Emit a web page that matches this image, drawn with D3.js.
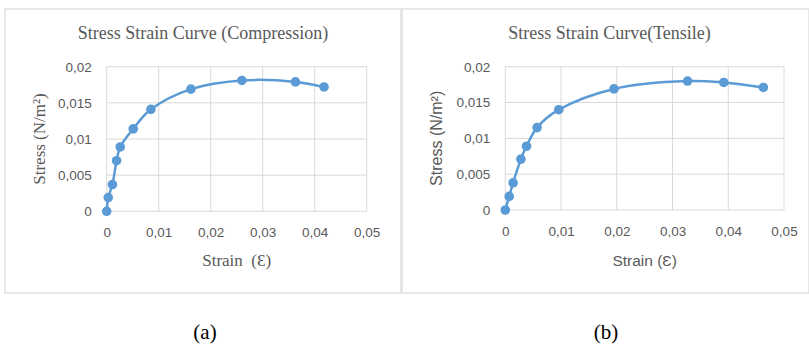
<!DOCTYPE html>
<html>
<head>
<meta charset="utf-8">
<script src="https://cdn.jsdelivr.net/npm/d3@7"></script>
<style>
  body { margin: 0; background: #fff; }
  svg { display: block; }
  text { white-space: pre; }
</style>
</head>
<body>
<div id="canvas"></div>
<script>
// compression test (a)
var compStrain = [0, 0.0003, 0.0011, 0.0019, 0.0026, 0.0051, 0.0085, 0.0162, 0.026, 0.0363, 0.0418];
var compStress = [0, 0.0019, 0.0037, 0.0070, 0.0089, 0.0114, 0.0141, 0.0169, 0.0181, 0.0179, 0.0172];
// tensile test (b)
var tensStrain = [0, 0.0007, 0.0014, 0.0028, 0.0038, 0.0057, 0.0096, 0.0195, 0.0327, 0.0392, 0.0463];
var tensStress = [0, 0.0019, 0.0038, 0.0071, 0.0089, 0.0115, 0.0140, 0.0169, 0.0180, 0.0178, 0.0171];

var xTicks = [0, 0.01, 0.02, 0.03, 0.04, 0.05];
var yTicks = [0, 0.005, 0.01, 0.015, 0.02];
var titles = ["Stress Strain Curve (Compression)", "Stress Strain Curve(Tensile)"];
var xTitles = ["Strain  (\u0190)", "Strain (\u0190)"];
var yTitles = ["Stress (N/m\u00b2)", "Stress (N/m\u00b2)"];
var captions = ["(a)", "(b)"];

var width = 809, height = 348;
var blue = "#5b9bd5";
var serif = "'Liberation Serif', 'Times New Roman', serif";
var sans = "'Liberation Sans', Arial, sans-serif";

var svg = d3.select("#canvas").append("svg")
  .attr("width", width)
  .attr("height", height);

// comma decimal like the original
var fmt = (d) => { return d === 0 ? "0" : String(d).replace(".", ","); };

var panels = [
  {box: [5, 9, 401, 293], plot: {left: 106.7, right: 366.7, top: 66.7, bottom: 211.3},
   xs: compStrain, ys: compStress, axisFont: serif, xSize: 17, ySize: 17, cap: 205},
  {box: [402, 9, 809, 293], plot: {left: 505.3, right: 784, top: 66.7, bottom: 210},
   xs: tensStrain, ys: tensStress, axisFont: sans, xSize: 15.5, ySize: 16, cap: 606}
];

panels.forEach((p, i) => {
  var g = svg.append("g");

  // panel border
  g.append("rect")
    .attr("x", p.box[0]).attr("y", p.box[1])
    .attr("width", p.box[2] - p.box[0]).attr("height", p.box[3] - p.box[1])
    .attr("fill", "none").attr("stroke", "#e0e0e0").attr("stroke-width", 1.5);

  var x = d3.scaleLinear().domain([0, 0.05]).range([p.plot.left, p.plot.right]);
  var y = d3.scaleLinear().domain([0, 0.02]).range([p.plot.bottom, p.plot.top]);

  // gridlines
  g.append("g").selectAll("line").data(xTicks).enter().append("line")
    .attr("x1", (d) => x(d)).attr("x2", (d) => x(d))
    .attr("y1", p.plot.top).attr("y2", p.plot.bottom)
    .attr("stroke", "#d9d9d9").attr("stroke-width", 1);
  g.append("g").selectAll("line").data(yTicks).enter().append("line")
    .attr("x1", p.plot.left).attr("x2", p.plot.right)
    .attr("y1", (d) => y(d)).attr("y2", (d) => y(d))
    .attr("stroke", "#d9d9d9").attr("stroke-width", 1);

  // axes, only labels shown
  var bottomAxis = d3.axisBottom(x).tickValues(xTicks).tickFormat(fmt).tickSize(0).tickPadding(16);
  var leftAxis = d3.axisLeft(y).tickValues(yTicks).tickFormat(fmt).tickSize(0).tickPadding(15);
  var xa = g.append("g").attr("transform", "translate(0," + p.plot.bottom + ")").call(bottomAxis);
  var ya = g.append("g").attr("transform", "translate(" + p.plot.left + ",0)").call(leftAxis);
  [xa, ya].forEach((a) => {
    a.select(".domain").remove();
    a.selectAll("text").attr("fill", "#595959").attr("font-family", sans).attr("font-size", "13.5px");
  });

  // title
  g.append("text")
    .attr("x", (p.box[0] + p.box[2]) / 2 + (i === 0 ? 0 : 4))
    .attr("y", 39)
    .attr("text-anchor", "middle")
    .attr("font-family", serif)
    .attr("font-size", "18px")
    .attr("fill", "#595959")
    .text(titles[i]);

  // axis titles
  g.append("text")
    .attr("x", (p.plot.left + p.plot.right) / 2)
    .attr("y", 266)
    .attr("text-anchor", "middle")
    .attr("font-family", p.axisFont)
    .attr("font-size", p.xSize + "px")
    .attr("fill", "#595959")
    .text(xTitles[i]);
  g.append("text")
    .attr("transform", "translate(" + (p.box[0] + 34) + "," + ((p.plot.top + p.plot.bottom) / 2) + ") rotate(-90)")
    .attr("text-anchor", "middle")
    .attr("dy", "0.35em")
    .attr("font-family", p.axisFont)
    .attr("font-size", p.ySize + "px")
    .attr("fill", "#595959")
    .text(yTitles[i]);

  // curve
  var pts = p.xs.map((d, j) => [d, p.ys[j]]);
  var line = d3.line()
    .x((d) => x(d[0]))
    .y((d) => y(d[1]))
    .curve(d3.curveCatmullRom.alpha(0.5));
  g.append("path")
    .attr("d", line(pts))
    .attr("fill", "none")
    .attr("stroke", blue)
    .attr("stroke-width", 2.5);
  g.append("g").selectAll("circle").data(pts).enter().append("circle")
    .attr("cx", (d) => x(d[0]))
    .attr("cy", (d) => y(d[1]))
    .attr("r", 4.8)
    .attr("fill", blue);

  // caption under the panel
  svg.append("text")
    .attr("x", p.cap)
    .attr("y", 339)
    .attr("text-anchor", "middle")
    .attr("font-family", serif)
    .attr("font-size", "21px")
    .attr("fill", "#000")
    .text(captions[i]);
});
</script>
</body>
</html>
